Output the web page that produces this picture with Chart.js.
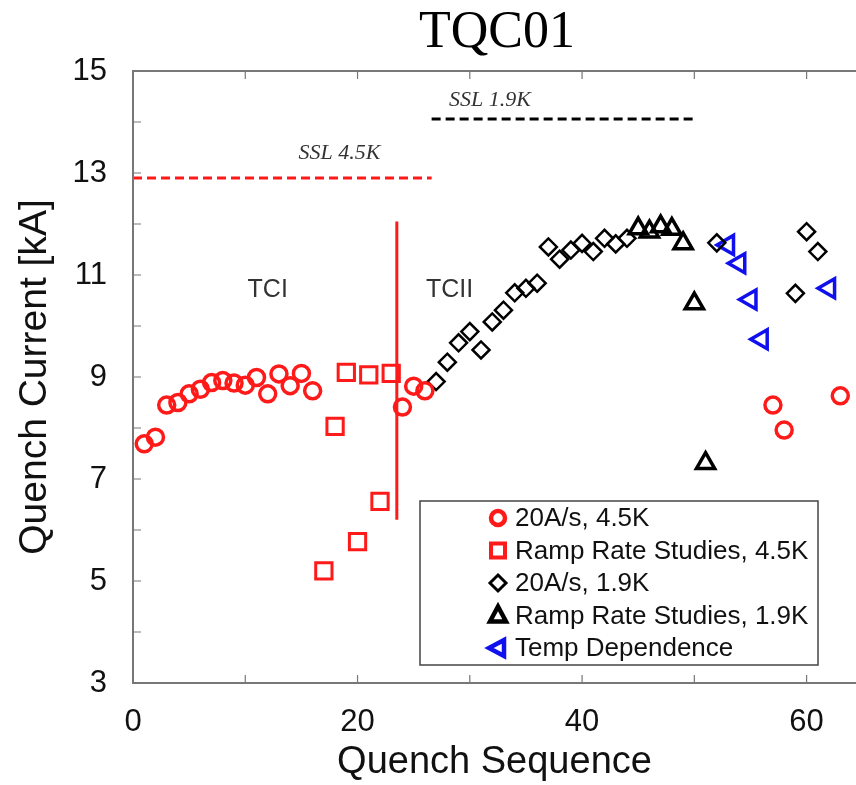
<!DOCTYPE html>
<html>
<head>
<meta charset="utf-8">
<script src="https://cdn.jsdelivr.net/npm/chart.js@4/dist/chart.umd.min.js"></script>
<style>
  html, body { margin: 0; padding: 0; background: #fff; }
  #wrap { width: 856px; height: 785px; }
</style>
</head>
<body>
<div id="wrap"><canvas id="grafico"></canvas></div>
<script>
// values
var circ45X = [1, 2, 3, 4, 5, 6, 7, 8, 9, 10, 11, 12, 13, 14, 15, 16, 24, 25, 26, 57, 58, 63];
var circ45Y = [7.69, 7.82, 8.45, 8.5, 8.67, 8.76, 8.89, 8.93, 8.88, 8.84, 8.99, 8.67, 9.06, 8.83, 9.07, 8.73, 8.41, 8.82, 8.73, 8.45, 7.96, 8.63];
var ramp45X = [17, 18, 19, 20, 21, 22, 23];
var ramp45Y = [5.2, 8.03, 9.09, 5.77, 9.04, 6.56, 9.07];
var circ19X = [27, 28, 29, 30, 31, 32, 33, 34, 35, 36, 37, 38, 39, 40, 41, 42, 43, 44, 52, 59, 60, 61];
var circ19Y = [8.91, 9.29, 9.67, 9.89, 9.53, 10.08, 10.31, 10.65, 10.74, 10.84, 11.55, 11.31, 11.49, 11.62, 11.46, 11.72, 11.61, 11.72, 11.63, 10.64, 11.85, 11.46];
var ramp19X = [45, 46, 47, 48, 49, 50, 51];
var ramp19Y = [11.91, 11.85, 11.95, 11.9, 11.62, 10.44, 7.31];
var tempX = [53, 54, 55, 56, 62];
var tempY = [11.59, 11.23, 10.52, 9.74, 10.74];

var ssl45X = [0, 26.6];
var ssl45Y = [12.9, 12.9];
var ssl19X = [26.6, 50];
var ssl19Y = [14.06, 14.06];
var tcLineX = [23.5, 23.5];
var tcLineY = [6.2, 12.05];

var xTicks = [0, 20, 40, 60];
var yTicks = [3, 5, 7, 9, 11, 13, 15];

var legendNames = ["20A/s, 4.5K", "Ramp Rate Studies, 4.5K", "20A/s, 1.9K", "Ramp Rate Studies, 1.9K", "Temp Dependence"];

function pts(xs, ys) {
  return xs.map(function (x, i) { return { x: x, y: ys[i] }; });
}

var RED = "#ff1a1a";
var BLUE = "#1010ee";
var BLACK = "#000000";

function drawMarker(ctx, style, x, y, color) {
  ctx.save();
  ctx.strokeStyle = color;
  ctx.lineWidth = 4.5;
  ctx.beginPath();
  if (style === "circle") {
    ctx.arc(x, y, 7, 0, Math.PI * 2);
  } else if (style === "rect") {
    ctx.lineWidth = 4;
    ctx.rect(x - 7, y - 7, 14, 14);
  } else if (style === "rectRot") {
    ctx.lineWidth = 3;
    ctx.moveTo(x, y - 8); ctx.lineTo(x + 8, y); ctx.lineTo(x, y + 8); ctx.lineTo(x - 8, y); ctx.closePath();
  } else if (style === "triUp") {
    ctx.moveTo(x, y - 9); ctx.lineTo(x + 8, y + 6); ctx.lineTo(x - 8, y + 6); ctx.closePath();
  } else if (style === "triLeft") {
    ctx.moveTo(x - 9, y); ctx.lineTo(x + 6, y - 8); ctx.lineTo(x + 6, y + 8); ctx.closePath();
  }
  ctx.stroke();
  ctx.restore();
}

var decorPlugin = {
  id: "decor",
  afterDraw: function (chart) {
    var ctx = chart.ctx;
    var a = chart.chartArea;
    var xs = chart.scales.x;
    var ys = chart.scales.y;
    ctx.save();

    // frame (left, top, bottom)
    ctx.strokeStyle = "#777";
    ctx.lineWidth = 2;
    ctx.beginPath();
    ctx.moveTo(chart.width, a.top);
    ctx.lineTo(a.left, a.top);
    ctx.lineTo(a.left, a.bottom);
    ctx.lineTo(chart.width, a.bottom);
    ctx.stroke();

    // inward ticks
    ctx.lineWidth = 1.2;
    ctx.beginPath();
    for (var v = 10; v <= 60; v += 10) {
      var px = xs.getPixelForValue(v);
      ctx.moveTo(px, a.bottom); ctx.lineTo(px, a.bottom - 8);
      ctx.moveTo(px, a.top); ctx.lineTo(px, a.top + 8);
    }
    for (var w = 4; w <= 14; w += 1) {
      var py = ys.getPixelForValue(w);
      ctx.moveTo(a.left, py); ctx.lineTo(a.left + 8, py);
    }
    ctx.stroke();

    // title
    ctx.fillStyle = "#000";
    ctx.textAlign = "center";
    ctx.textBaseline = "middle";
    ctx.font = "52px 'Liberation Serif', 'Times New Roman', serif";
    ctx.fillText("TQC01", 497, 33);

    // annotations
    ctx.font = "italic 22px 'Liberation Serif', serif";
    ctx.fillStyle = "#333";
    ctx.fillText("SSL 4.5K", xs.getPixelForValue(18.4), ys.getPixelForValue(13.39));
    ctx.fillText("SSL 1.9K", xs.getPixelForValue(31.8), ys.getPixelForValue(14.43));
    ctx.font = "25px 'Liberation Sans', Arial, sans-serif";
    ctx.fillText("TCI", xs.getPixelForValue(12.0), ys.getPixelForValue(10.71));
    ctx.fillText("TCII", xs.getPixelForValue(28.2), ys.getPixelForValue(10.71));

    // legend box
    var bx = 420, by = 501, bw = 398, bh = 164;
    ctx.fillStyle = "#fff";
    ctx.fillRect(bx, by, bw, bh);
    ctx.strokeStyle = "#444";
    ctx.lineWidth = 1.5;
    ctx.strokeRect(bx, by, bw, bh);
    var styles = ["circle", "rect", "rectRot", "triUp", "triLeft"];
    var colors = [RED, RED, BLACK, BLACK, BLUE];
    ctx.font = "26px 'Liberation Sans', Arial, sans-serif";
    ctx.textAlign = "left";
    for (var i = 0; i < legendNames.length; i++) {
      var ry = 518 + i * 32.5;
      drawMarker(ctx, styles[i], 498, ry, colors[i]);
      ctx.fillStyle = "#111";
      ctx.fillText(legendNames[i], 515, ry + 1);
    }
    ctx.restore();
  },
};

var ctx1 = document.getElementById("grafico").getContext("2d");
var grafico = new Chart(ctx1, {
  type: "scatter",
  data: {
    datasets: [
      {
        label: "SSL 4.5K",
        type: "line",
        data: pts(ssl45X, ssl45Y),
        borderColor: RED,
        borderWidth: 3,
        borderDash: [9, 5],
        pointRadius: 0,
        fill: false,
      },
      {
        label: "SSL 1.9K",
        type: "line",
        data: pts(ssl19X, ssl19Y),
        borderColor: BLACK,
        borderWidth: 3,
        borderDash: [9, 5],
        pointRadius: 0,
        fill: false,
      },
      {
        label: "TC",
        type: "line",
        data: pts(tcLineX, tcLineY),
        borderColor: RED,
        borderWidth: 3,
        pointRadius: 0,
        fill: false,
      },
      {
        label: legendNames[0],
        data: pts(circ45X, circ45Y),
        pointStyle: "circle",
        pointRadius: 8,
        borderColor: RED,
        backgroundColor: "rgba(0,0,0,0)",
        borderWidth: 3.5,
      },
      {
        label: legendNames[1],
        data: pts(ramp45X, ramp45Y),
        pointStyle: "rect",
        pointRadius: 11.5,
        borderColor: RED,
        backgroundColor: "rgba(0,0,0,0)",
        borderWidth: 3,
      },
      {
        label: legendNames[2],
        data: pts(circ19X, circ19Y),
        pointStyle: "rectRot",
        pointRadius: 8.5,
        borderColor: BLACK,
        backgroundColor: "rgba(0,0,0,0)",
        borderWidth: 2.5,
      },
      {
        label: legendNames[3],
        data: pts(ramp19X, ramp19Y),
        pointStyle: "triangle",
        pointRadius: 10.5,
        borderColor: BLACK,
        backgroundColor: "rgba(0,0,0,0)",
        borderWidth: 3.5,
      },
      {
        label: legendNames[4],
        data: pts(tempX, tempY),
        pointStyle: "triangle",
        rotation: -90,
        pointRadius: 11,
        borderColor: BLUE,
        backgroundColor: "rgba(0,0,0,0)",
        borderWidth: 3.5,
      },
    ],
  },
  options: {
    responsive: true,
    maintainAspectRatio: false,
    animation: false,
    events: [],
    layout: { autoPadding: false, padding: { top: 71, right: 0, left: 0, bottom: 0 } },
    plugins: {
      legend: { display: false },
      tooltip: { enabled: false },
    },
    scales: {
      x: {
        type: "linear",
        min: 0,
        max: 64.4,
        afterFit: function (scale) {
          scale.height = 102;
          scale.paddingLeft = 0;
          scale.paddingRight = 0;
        },
        afterBuildTicks: function (scale) {
          scale.ticks = xTicks.map(function (v) { return { value: v }; });
        },
        grid: { display: false },
        border: { display: false },
        ticks: {
          color: "#111",
          padding: 13,
          font: { family: "'Liberation Sans', Arial, sans-serif", size: 31 },
        },
        title: {
          display: true,
          text: "Quench Sequence",
          color: "#111",
          padding: { top: 0, bottom: 0 },
          font: { family: "'Liberation Sans', Arial, sans-serif", size: 38 },
        },
      },
      y: {
        type: "linear",
        min: 3,
        max: 15,
        afterFit: function (scale) {
          scale.width = 133;
          scale.paddingTop = 0;
          scale.paddingBottom = 0;
        },
        afterBuildTicks: function (scale) {
          scale.ticks = yTicks.map(function (v) { return { value: v }; });
        },
        grid: { display: false },
        border: { display: false },
        ticks: {
          color: "#111",
          padding: 18,
          font: { family: "'Liberation Sans', Arial, sans-serif", size: 31 },
        },
        title: {
          display: true,
          text: "Quench Current [kA]",
          color: "#111",
          padding: { top: 12, bottom: 0 },
          font: { family: "'Liberation Sans', Arial, sans-serif", size: 39 },
        },
      },
    },
  },
  plugins: [decorPlugin],
});
</script>
</body>
</html>
